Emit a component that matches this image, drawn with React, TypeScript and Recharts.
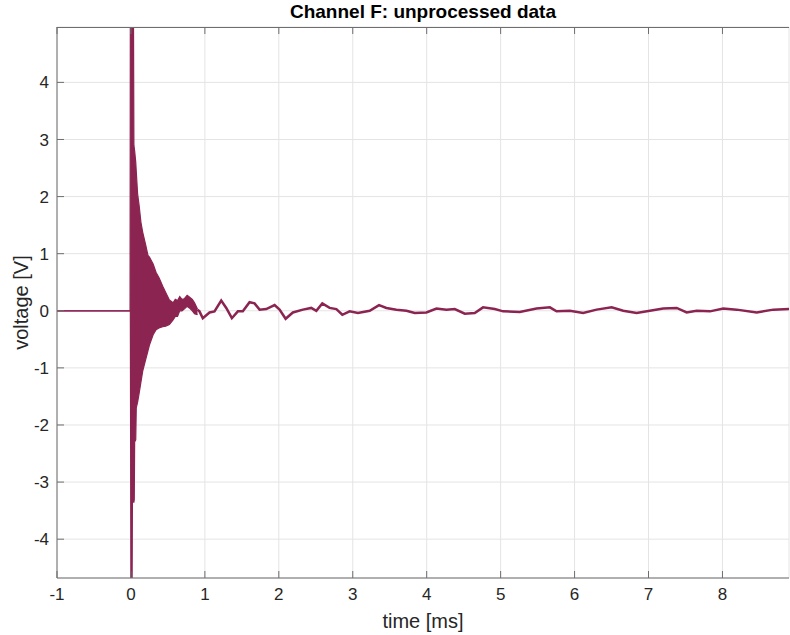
import React from "react"
import {
  ComposedChart,
  Area,
  Line,
  XAxis,
  YAxis,
  CartesianGrid,
} from "recharts"

// dense ringing right after the trigger, read as upper / lower envelope
const envTime = [
  -1.0, -0.012, -0.008, 0.0, 0.015, 0.02, 0.034, 0.04, 0.045, 0.05, 0.065, 0.072,
  0.09, 0.11, 0.135, 0.16, 0.2, 0.23, 0.25, 0.3, 0.34, 0.38, 0.43, 0.47, 0.52,
  0.57, 0.6, 0.63, 0.66, 0.69, 0.72, 0.76, 0.79, 0.83, 0.86, 0.9,
]
const envHigh = [
  0, 0, 5.3, 5.3, 5.3, 5.3, 5.3, 2.9, 2.85, 2.8, 2.6, 2.44,
  2.05, 1.85, 1.55, 1.37, 1.15, 0.97, 0.94, 0.82, 0.67, 0.58, 0.43, 0.32, 0.19,
  0.14, 0.2, 0.18, 0.25, 0.2, 0.21, 0.27, 0.24, 0.2, 0.14, 0.03,
]
const envLow = [
  0, 0, 0, -5.0, -5.0, -3.35, -3.35, -3.35, -3.3, -2.3, -2.26, -1.7,
  -1.6, -1.45, -1.25, -1.05, -0.85, -0.7, -0.6, -0.42, -0.33, -0.3, -0.28, -0.27, -0.24,
  -0.16, -0.1, -0.1, 0.0, 0.0, 0.03, 0.08, 0.05, 0.0, -0.05, -0.07,
]

// slow residual wobble after the ringing dies out
const tailTime = [
  0.9, 0.927, 0.972, 1.063, 1.13, 1.221, 1.289, 1.365, 1.446, 1.513, 1.604, 1.672,
  1.74, 1.83, 1.943, 2.01, 2.092, 2.19, 2.326, 2.439, 2.507, 2.588, 2.687, 2.778,
  2.859, 2.958, 3.07, 3.229, 3.355, 3.455, 3.59, 3.726, 3.838, 3.996, 4.132, 4.267,
  4.379, 4.515, 4.65, 4.762, 4.921, 5.033, 5.259, 5.485, 5.666, 5.756, 5.936, 6.116,
  6.298, 6.501, 6.658, 6.839, 7.019, 7.199, 7.381, 7.516, 7.651, 7.831, 8.011, 8.193,
  8.463, 8.688, 8.914,
]
const tailVolt = [
  0.02, -0.01, -0.13, -0.03, -0.01, 0.18, 0.05, -0.13, -0.01, -0.01, 0.15, 0.13,
  0.02, 0.03, 0.1, 0.02, -0.14, -0.03, 0.02, 0.05, 0.0, 0.13, 0.05, 0.03,
  -0.07, -0.01, -0.04, 0.0, 0.1, 0.05, 0.02, 0.0, -0.04, -0.03, 0.04, 0.02,
  0.03, -0.05, -0.04, 0.06, 0.03, -0.01, -0.02, 0.04, 0.06, -0.01, 0.0, -0.04,
  0.02, 0.06, 0.0, -0.04, 0.0, 0.04, 0.05, -0.03, 0.0, -0.01, 0.04, 0.02,
  -0.03, 0.02, 0.03,
]

const xTicks = [-1, 0, 1, 2, 3, 4, 5, 6, 7, 8]
const yTicks = [-4, -3, -2, -1, 0, 1, 2, 3, 4]

const X_DOMAIN = [-1, 8.9]
const Y_DOMAIN = [-4.68, 4.97]

const envData = envTime.map((t, i) => ({ t, band: [envLow[i], envHigh[i]] }))
const tailData = tailTime.map((t, i) => ({ t, v: tailVolt[i] }))

const COLOR = "#8c2452"
const AXIS = "#6e6e6e"
const TEXT = "#262626"
const FONT = "'Liberation Sans', Arial, Helvetica, sans-serif"

// plot box (chart margins + axis sizes)
const PLOT_LEFT = 57
const PLOT_TOP = 27
const PLOT_W = 732

// top frame edge with inward ticks, MATLAB "box on" look
function TopFrame() {
  const toX = (t: number) => PLOT_LEFT + ((t - X_DOMAIN[0]) / (X_DOMAIN[1] - X_DOMAIN[0])) * PLOT_W
  return (
    <svg
      width={790}
      height={40}
      style={{ position: "absolute", left: 0, top: 0, pointerEvents: "none" }}
    >
      <line x1={PLOT_LEFT} x2={PLOT_LEFT + PLOT_W} y1={PLOT_TOP + 0.5} y2={PLOT_TOP + 0.5} stroke={AXIS} strokeWidth={1} />
      {xTicks.map((t) => (
        <line key={t} x1={toX(t)} x2={toX(t)} y1={PLOT_TOP} y2={PLOT_TOP + 7} stroke={AXIS} strokeWidth={1} />
      ))}
    </svg>
  )
}

export default function App() {
  const tickStyle = { fill: TEXT, fontSize: 17, fontFamily: FONT }
  return (
    <div style={{ position: "absolute", left: 0, top: 0, width: 790, height: 635, background: "#fff" }}>
      <ComposedChart width={790} height={635} margin={{ top: PLOT_TOP, right: 1, bottom: 0, left: 0 }}>
        <CartesianGrid stroke="#e4e4e4" strokeWidth={1} />
        <XAxis
          dataKey="t"
          type="number"
          domain={X_DOMAIN}
          ticks={xTicks}
          allowDataOverflow
          height={57}
          stroke={AXIS}
          tickSize={-7}
          tickMargin={17}
          tick={tickStyle}
          label={{ value: "time [ms]", position: "center", dy: 14, fill: TEXT, fontSize: 20, fontFamily: FONT }}
        />
        <YAxis
          type="number"
          domain={Y_DOMAIN}
          ticks={yTicks}
          allowDataOverflow
          width={PLOT_LEFT}
          stroke={AXIS}
          tickSize={-7}
          tickMargin={15}
          tick={tickStyle}
          label={{ value: "voltage [V]", angle: -90, position: "center", dx: -8, fill: TEXT, fontSize: 20, fontFamily: FONT }}
        />
        <Area
          data={envData}
          dataKey="band"
          type="linear"
          stroke={COLOR}
          strokeWidth={1.2}
          fill={COLOR}
          fillOpacity={1}
          isAnimationActive={false}
        />
        <Line
          data={tailData}
          dataKey="v"
          type="linear"
          stroke={COLOR}
          strokeWidth={2.5}
          dot={false}
          isAnimationActive={false}
        />
      </ComposedChart>
      <TopFrame />
      <div
        style={{
          position: "absolute",
          left: PLOT_LEFT,
          width: PLOT_W,
          top: 1,
          textAlign: "center",
          fontFamily: FONT,
          fontWeight: "bold",
          fontSize: 19,
          lineHeight: "22px",
          color: "#000",
          pointerEvents: "none",
        }}
      >
        Channel F: unprocessed data
      </div>
    </div>
  )
}
